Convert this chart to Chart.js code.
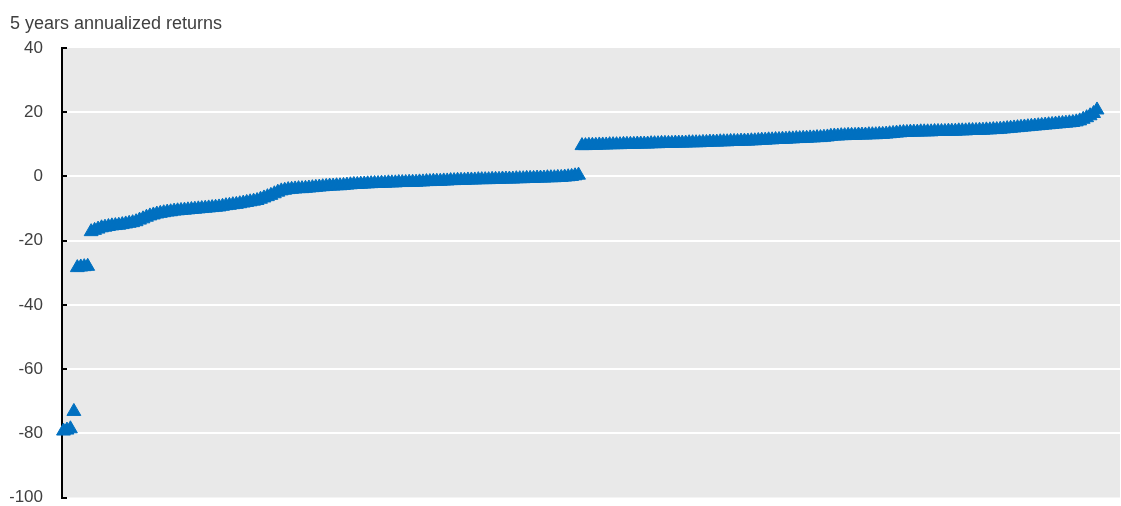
<!DOCTYPE html>
<html><head><meta charset="utf-8">
<script src="https://cdn.jsdelivr.net/npm/chart.js@4.4.0/dist/chart.umd.min.js"></script>
<style>html,body{margin:0;padding:0;background:#fff;overflow:hidden;} #wrap{position:relative;width:1121px;height:506px;}</style>
</head><body>
<div id="wrap"><canvas id="c"></canvas></div>
<script>
const chartTitle = '5 years annualized returns';
const yTickValues = [-100, -80, -60, -40, -20, 0, 20, 40];
// 5-year annualized returns, sorted ascending (one value per fund)
const returns = [
  -79.3, -79.0, -78.6, -73.2, -28.4, -28.2, -28.1, -28.0,
  -17.2, -16.8, -16.4, -16.0, -15.8, -15.6, -15.4, -15.3, -15.2, -15.0, -14.8, -14.6,
  -14.4, -14.1, -13.6, -13.2, -12.7, -12.3, -12.0, -11.7, -11.5, -11.3,
  -11.1, -11.0, -10.8, -10.7, -10.6, -10.5, -10.4, -10.3, -10.2, -10.1,
  -10.0, -9.9, -9.8, -9.7, -9.6, -9.5, -9.3, -9.1, -9.0, -8.8,
  -8.7, -8.5, -8.3, -8.1, -7.9, -7.7, -7.5, -7.1, -6.7, -6.3,
  -5.9, -5.4, -4.9, -4.5, -4.3, -4.1, -4.0, -3.9, -3.8, -3.8,
  -3.7, -3.6, -3.5, -3.4, -3.3, -3.2, -3.1, -3.0, -3.0, -2.9,
  -2.9, -2.8, -2.7, -2.6, -2.5, -2.5, -2.4, -2.35, -2.3, -2.25,
  -2.2, -2.2, -2.1, -2.1, -2.0, -2.0, -2.0, -1.9, -1.9, -1.9,
  -1.8, -1.8, -1.8, -1.7, -1.7, -1.6, -1.6, -1.5, -1.5, -1.5,
  -1.4, -1.4, -1.3, -1.3, -1.2, -1.2, -1.2, -1.1, -1.1, -1.1,
  -1.0, -1.0, -1.0, -1.0, -0.9, -0.9, -0.9, -0.8, -0.8, -0.8,
  -0.8, -0.7, -0.7, -0.7, -0.6, -0.6, -0.6, -0.5, -0.5, -0.5,
  -0.4, -0.4, -0.4, -0.3, -0.3, -0.2, -0.1, 0.0, 0.2, 0.4,
  9.6, 9.6, 9.7, 9.7, 9.7, 9.8, 9.8, 9.8, 9.9, 9.9,
  9.9, 9.9, 10.0, 10.0, 10.0, 10.0, 10.1, 10.1, 10.1, 10.1,
  10.2, 10.2, 10.2, 10.3, 10.3, 10.3, 10.3, 10.4, 10.4, 10.4,
  10.4, 10.5, 10.5, 10.5, 10.5, 10.6, 10.6, 10.7, 10.7, 10.7,
  10.8, 10.8, 10.8, 10.9, 10.9, 10.9, 11.0, 11.0, 11.0, 11.1,
  11.1, 11.2, 11.3, 11.3, 11.4, 11.4, 11.5, 11.5, 11.6, 11.6,
  11.7, 11.7, 11.8, 11.8, 11.9, 11.9, 12.0, 12.0, 12.1, 12.1,
  12.2, 12.3, 12.5, 12.6, 12.6, 12.7, 12.7, 12.8, 12.8, 12.8,
  12.9, 12.9, 12.9, 13.0, 13.0, 13.0, 13.1, 13.1, 13.2, 13.3,
  13.4, 13.5, 13.6, 13.7, 13.7, 13.8, 13.8, 13.8, 13.9, 13.9,
  13.9, 13.9, 14.0, 14.0, 14.0, 14.0, 14.1, 14.1, 14.1, 14.2,
  14.2, 14.2, 14.3, 14.3, 14.3, 14.4, 14.4, 14.5, 14.5, 14.6,
  14.6, 14.7, 14.8, 14.9, 15.0, 15.1, 15.2, 15.3, 15.4, 15.5,
  15.6, 15.7, 15.8, 15.9, 16.0, 16.1, 16.2, 16.3, 16.4, 16.5,
  16.6, 16.7, 16.8, 17.0, 17.3, 17.8, 18.3, 18.9, 19.6, 20.7
];
// rank of each fund (x position)
const ranks = returns.map((_, i) => i + 1);

const FONT = '"Liberation Sans", Arial, sans-serif';
const TEXT = '#404040';

const bgPlugin = {
  id: 'plotBg',
  beforeDraw(chart) {
    const {ctx, chartArea: a} = chart;
    ctx.save();
    ctx.fillStyle = '#e9e9e9';
    ctx.fillRect(a.left, a.top, a.right - a.left, a.bottom - a.top);
    ctx.restore();
  }
};
const innerTicks = {
  id: 'innerTicks',
  beforeDatasetsDraw(chart) {
    const {ctx, chartArea: a} = chart;
    const y = chart.scales.y;
    ctx.save();
    ctx.strokeStyle = '#000';
    ctx.lineWidth = 2;
    y.ticks.forEach(t => {
      const py = Math.round(y.getPixelForValue(t.value));
      ctx.beginPath();
      ctx.moveTo(a.left, py);
      ctx.lineTo(a.left + 5, py);
      ctx.stroke();
    });
    ctx.restore();
  }
};

new Chart(document.getElementById('c'), {
  type: 'scatter',
  data: {
    datasets: [{
      data: ranks.map((r, i) => ({x: r, y: returns[i]})),
      pointStyle: 'triangle',
      pointRadius: 8,
      pointBorderWidth: 1,
      backgroundColor: '#0070c0',
      borderColor: '#0070c0',
      clip: false
    }]
  },
  options: {
    responsive: true,
    maintainAspectRatio: false,
    animation: false,
    layout: {autoPadding: false, padding: {left: 10, right: 1, top: 0, bottom: 0}},
    plugins: {
      legend: {display: false},
      tooltip: {enabled: false},
      title: {
        display: true,
        text: chartTitle,
        align: 'start',
        color: TEXT,
        font: {family: FONT, size: 18, weight: 'normal', lineHeight: 1.2},
        padding: {top: 13, bottom: 13.4}
      }
    },
    scales: {
      x: {
        type: 'linear',
        display: false,
        min: 0.566,
        max: 306.65
      },
      y: {
        min: -100,
        max: 40,
        afterFit(s) { s.width = 52; },
        afterBuildTicks(s) { s.ticks = yTickValues.map(v => ({value: v})); },
        ticks: {
          color: TEXT,
          padding: 0,
          font: {family: FONT, size: 17, lineHeight: 1}
        },
        grid: {
          drawTicks: true,
          tickLength: 19,
          tickColor: 'rgba(0,0,0,0)',
          lineWidth: 2,
          color: c => (c.tick && (c.tick.value === 40 || c.tick.value === -100)) ? 'rgba(0,0,0,0)' : '#ffffff'
        },
        border: {display: true, color: '#000', width: 2}
      }
    }
  },
  plugins: [bgPlugin, innerTicks]
});
</script>
</body></html>
